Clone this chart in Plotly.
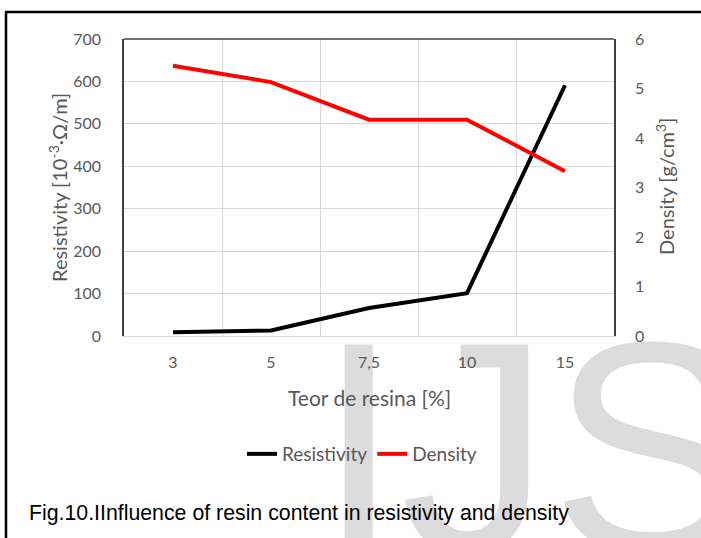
import plotly.graph_objects as go

# ---- data ----
categories = ["3", "5", "7,5", "10", "15"]
resistivity = [9, 13, 66, 101, 591]
density = [5.46, 5.13, 4.37, 4.37, 3.33]
y_left_ticks = [0, 100, 200, 300, 400, 500, 600, 700]
y_right_ticks = [0, 1, 2, 3, 4, 5, 6]

W, H = 701, 538
FONT_FAMILY = "Lato, Carlito, sans-serif"
TICK_FONT = dict(family=FONT_FAMILY, size=16, color="#595959")
XTITLE_FONT = dict(family=FONT_FAMILY, size=21, color="#595959")
YTITLE_FONT = dict(family=FONT_FAMILY, size=20, color="#595959")


def px(x):
    return x / W


def py(y):
    return (H - y) / H


fig = go.Figure()

# watermark (background decoration) on a full-page hidden subplot
fig.add_trace(go.Scatter(
    x=[317], y=[476], mode="text", text=["IJS"], textposition="middle right",
    textfont=dict(family="Liberation Sans, Arial, sans-serif", size=300, color="#dcdcdc"),
    showlegend=False, hoverinfo="skip", cliponaxis=False,
    xaxis="x", yaxis="y",
))

fig.add_trace(go.Scatter(
    x=categories, y=resistivity, mode="lines", name="Resistivity",
    line=dict(color="#000000", width=4), xaxis="x2", yaxis="y2",
))
fig.add_trace(go.Scatter(
    x=categories, y=density, mode="lines", name="Density",
    line=dict(color="#ff0000", width=4), xaxis="x2", yaxis="y3",
))

x0d, x1d = px(124), px(614)
y0d, y1d = py(336), py(39)

fig.update_layout(
    width=W, height=H,
    margin=dict(l=0, r=0, t=0, b=0),
    paper_bgcolor="white", plot_bgcolor="rgba(0,0,0,0)",
    xaxis=dict(domain=[0, 1], range=[0, W], visible=False, fixedrange=True),
    yaxis=dict(domain=[0, 1], range=[H, 0], visible=False, fixedrange=True),
    xaxis2=dict(
        domain=[x0d, x1d], anchor="y2", type="category", range=[-0.5, 4.5],
        tickson="boundaries", ticks="", showgrid=True, gridcolor="#d9d9d9", gridwidth=1,
        showline=True, linecolor="#d9d9d9", linewidth=1,
        tickfont=TICK_FONT, ticklabelstandoff=12, automargin=False,
    ),
    yaxis2=dict(
        domain=[y0d, y1d], anchor="x2", range=[0, 700], tickvals=y_left_ticks,
        showgrid=True, gridcolor="#d9d9d9", gridwidth=1, zeroline=False,
        showline=True, linecolor="#404040", linewidth=1.5,
        tickfont=TICK_FONT, ticklabelstandoff=18, automargin=False,
    ),
    yaxis3=dict(
        overlaying="y2", side="right", anchor="x2", range=[0, 6], tickvals=y_right_ticks,
        showgrid=False, zeroline=False,
        showline=True, linecolor="#404040", linewidth=1.5,
        tickfont=TICK_FONT, ticklabelstandoff=16, automargin=False,
    ),
    legend=dict(
        orientation="h", x=px(362), xanchor="center", y=py(454), yanchor="middle",
        font=dict(family=FONT_FAMILY, size=19, color="#595959"),
        bgcolor="rgba(0,0,0,0)", itemwidth=30, tracegroupgap=0,
    ),
    shapes=[
        dict(type="line", xref="paper", yref="paper", x0=x0d, x1=x1d, y0=y1d, y1=y1d,
             line=dict(color="#404040", width=1.5)),
        dict(type="rect", xref="paper", yref="paper", x0=px(6), x1=1.1, y0=py(12), y1=-0.1,
             line=dict(color="#000000", width=2.5), fillcolor="rgba(0,0,0,0)"),
    ],
    annotations=[
        dict(text="Teor de resina [%]", xref="paper", yref="paper", x=px(369), y=py(397),
             xanchor="center", yanchor="middle", showarrow=False, font=XTITLE_FONT),
        dict(text="Resistivity [10<sup>-3</sup>·Ω/m]", xref="paper", yref="paper",
             x=px(58), y=py(188), xanchor="center", yanchor="middle", textangle=-90,
             showarrow=False, font=YTITLE_FONT),
        dict(text="Density [g/cm<sup>3</sup>]", xref="paper", yref="paper",
             x=px(665), y=py(187), xanchor="center", yanchor="middle", textangle=-90,
             showarrow=False, font=YTITLE_FONT),
        dict(text="Fig.10.IInfluence of resin content in resistivity and density",
             xref="paper", yref="paper", x=px(27), y=py(513), xanchor="left", yanchor="middle",
             showarrow=False,
             font=dict(family="Liberation Sans, Arial, sans-serif", size=21.3, color="#000000")),
    ],
)

fig.write_html(
    "out.html",
    config={"displayModeBar": False},
    post_script="document.body.style.margin='0px';document.body.style.overflow='hidden';",
)
